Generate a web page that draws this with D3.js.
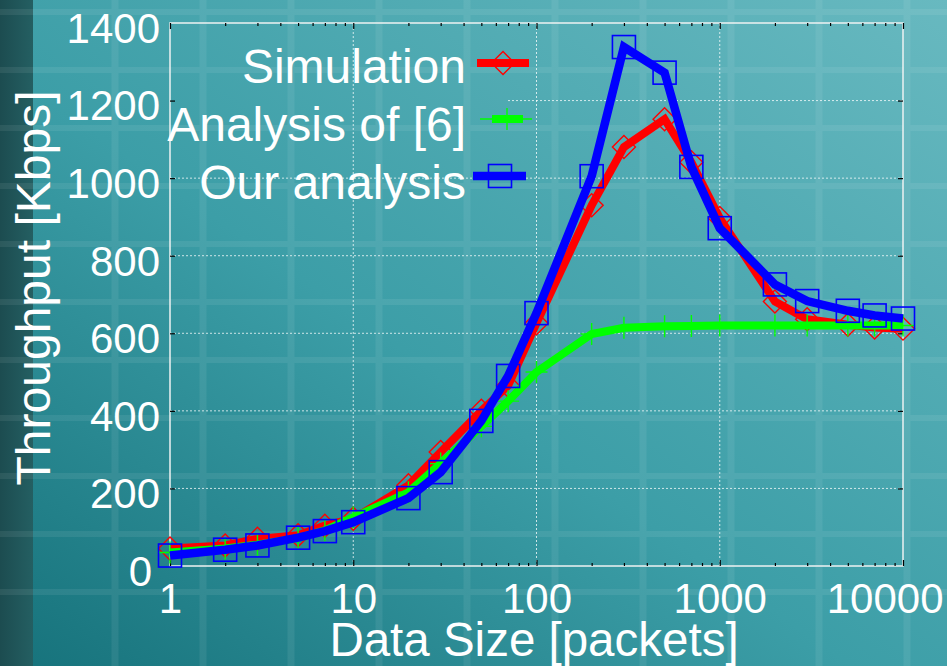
<!DOCTYPE html>
<html>
<head>
<meta charset="utf-8">
<script src="https://cdn.jsdelivr.net/npm/d3@7"></script>
<style>
  body { margin: 0; background: #2a8a93; }
  svg { display: block; font-family: "Liberation Sans", Arial, sans-serif; }
</style>
</head>
<body>
<svg id="chart" width="947" height="666"></svg>
<script>
// data
const sizes = [1, 2, 3, 5, 7, 10, 20, 30, 50, 70, 100, 200, 300, 500, 700, 1000, 2000, 3000, 5000, 7000, 10000];
const simulation = [45, 53, 70, 79, 104, 122, 208, 294, 400, 465, 626, 930, 1080, 1152, 1041, 897, 682, 636, 622, 615, 612];
const analysis6 = [35, 45, 55, 72, 92, 125, 190, 264, 360, 425, 500, 598, 614, 618, 619, 620, 620, 620, 620, 620, 620];
const ourAnalysis = [27, 42, 53, 73, 90, 113, 175, 242, 374, 490, 652, 1005, 1338, 1272, 1029, 871, 726, 683, 658, 646, 638];
const xTicks = [1, 10, 100, 1000, 10000];
const yTicks = [0, 200, 400, 600, 800, 1000, 1200, 1400];
const seriesNames = ["Simulation", "Analysis of [6]", "Our analysis"];

const W = 947, H = 666;
const margin = { top: 23, right: 44, bottom: 100, left: 170 };
const svg = d3.select("#chart");

// ---- slide background ----
const defs = svg.append("defs");
const bg = defs.append("linearGradient").attr("id", "bg")
  .attr("x1", "0").attr("y1", "1").attr("x2", "1").attr("y2", "0");
bg.append("stop").attr("offset", "0").attr("stop-color", "#16727b");
bg.append("stop").attr("offset", "0.45").attr("stop-color", "#3c9ea7");
bg.append("stop").attr("offset", "1").attr("stop-color", "#68b9c0");
const strip = defs.append("linearGradient").attr("id", "strip");
strip.append("stop").attr("offset", "0").attr("stop-color", "#1c4c50");
strip.append("stop").attr("offset", "1").attr("stop-color", "#245f62");

svg.append("rect").attr("width", W).attr("height", H).attr("fill", "url(#bg)");
svg.append("rect").attr("width", 33).attr("height", H).attr("fill", "url(#strip)");

const tex = svg.append("g").attr("opacity", 0.07).attr("stroke", "#fff");
tex.selectAll(".vb").data(d3.range(115, W, 88)).join("line")
  .attr("x1", d => d).attr("x2", d => d).attr("y1", 0).attr("y2", H).attr("stroke-width", 7);
tex.selectAll(".hb").data(d3.range(592, 0, -58)).join("line")
  .attr("y1", d => d).attr("y2", d => d).attr("x1", 0).attr("x2", W).attr("stroke-width", 6);

// ---- scales ----
const x = d3.scaleLog().domain([1, 10000]).range([margin.left, W - margin.right]);
const y = d3.scaleLinear().domain([0, 1400]).range([H - margin.bottom, margin.top]);
const x0 = x.range()[0], x1 = x.range()[1], y0 = y.range()[0], y1 = y.range()[1];

// grid (the 1200 line is hidden behind the key)
const grid = svg.append("g").attr("stroke", "#fff").attr("stroke-opacity", 0.75)
  .attr("stroke-width", 1).attr("stroke-dasharray", "2,2");
grid.selectAll(".gx").data(xTicks.slice(1, -1)).join("line")
  .attr("x1", d => x(d)).attr("x2", d => x(d)).attr("y1", y0).attr("y2", y1);
grid.selectAll(".gy").data(yTicks.slice(1, -1)).join("line")
  .attr("x1", d => d === 1200 ? 508 : x0).attr("x2", x1)
  .attr("y1", d => y(d)).attr("y2", d => y(d));

// border
svg.append("rect").attr("x", x0).attr("y", y1).attr("width", x1 - x0).attr("height", y0 - y1)
  .attr("fill", "none").attr("stroke", "#eef2f2").attr("stroke-width", 1.5);

// ---- axes ----
const minor = [];
for (let p = 1; p < 10000; p *= 10) for (let k = 2; k <= 9; k++) minor.push(p * k);

function styleAxis(g) {
  g.select(".domain").remove();
  g.selectAll(".tick line").attr("stroke", "#000").attr("stroke-width", 1.2);
  g.selectAll("text").attr("fill", "#fff").attr("font-size", 42)
    .attr("font-family", "'Liberation Sans', Arial, sans-serif");
}

const xAxis = svg.append("g").attr("transform", `translate(0,${y0})`)
  .call(d3.axisBottom(x).tickValues(xTicks).tickFormat(d3.format("d"))
    .tickSizeInner(-6).tickSizeOuter(0).tickPadding(17))
  .call(styleAxis);
xAxis.selectAll(".tick text").filter(d => d === 10000)
  .attr("text-anchor", "end").attr("x", 40);

svg.append("g").attr("transform", `translate(0,${y0})`)
  .call(d3.axisBottom(x).tickValues(minor).tickFormat("").tickSizeInner(-3).tickSizeOuter(0))
  .call(styleAxis);
svg.append("g").attr("transform", `translate(0,${y1})`)
  .call(d3.axisTop(x).tickValues(xTicks).tickFormat("").tickSizeInner(-6).tickSizeOuter(0))
  .call(styleAxis);
svg.append("g").attr("transform", `translate(0,${y1})`)
  .call(d3.axisTop(x).tickValues(minor).tickFormat("").tickSizeInner(-3).tickSizeOuter(0))
  .call(styleAxis);

const yAxis = svg.append("g").attr("transform", `translate(${x0},0)`)
  .call(d3.axisLeft(y).tickValues(yTicks).tickFormat(d3.format("d"))
    .tickSizeInner(-5).tickSizeOuter(0).tickPadding(10))
  .call(styleAxis);
yAxis.selectAll(".tick text").attr("dy", "0.46em");
yAxis.selectAll(".tick text").filter(d => d === 0).attr("x", -18);
yAxis.selectAll(".tick line").filter(d => d === 0 || d === 1400).remove();

const yAxisR = svg.append("g").attr("transform", `translate(${x1},0)`)
  .call(d3.axisRight(y).tickValues(yTicks).tickFormat("").tickSizeInner(-5).tickSizeOuter(0))
  .call(styleAxis);
yAxisR.selectAll(".tick line").filter(d => d === 0 || d === 1400).remove();

// axis titles
svg.append("text").attr("x", 534).attr("y", 656).attr("text-anchor", "middle")
  .attr("fill", "#fff").attr("font-size", 47.5).text("Data Size [packets]");
svg.append("text").attr("transform", "translate(50,288) rotate(-90)").attr("text-anchor", "middle")
  .attr("fill", "#fff").attr("font-size", 48).text("Throughput [Kbps]");

// ---- series ----
const line = d3.line().x(d => x(d[0])).y(d => y(d[1]));
const markers = {
  diamond: (g, cx, cy, c) => g.append("path")
    .attr("d", `M${cx},${cy - 11.5}L${cx + 11.5},${cy}L${cx},${cy + 11.5}L${cx - 11.5},${cy}Z`)
    .attr("fill", "none").attr("stroke", c).attr("stroke-width", 1.4),
  plus: (g, cx, cy, c) => g.append("path")
    .attr("d", `M${cx - 11},${cy}H${cx + 11}M${cx},${cy - 11}V${cy + 11}`)
    .attr("fill", "none").attr("stroke", c).attr("stroke-width", 1.4),
  square: (g, cx, cy, c) => g.append("rect")
    .attr("x", cx - 11.5).attr("y", cy - 11.5).attr("width", 23).attr("height", 23)
    .attr("fill", "none").attr("stroke", c).attr("stroke-width", 1.6)
};

const series = [
  { name: seriesNames[0], values: simulation, color: "#ff0000", marker: "diamond", width: 8 },
  { name: seriesNames[1], values: analysis6, color: "#00ff00", marker: "plus", width: 8 },
  { name: seriesNames[2], values: ourAnalysis, color: "#0000ff", marker: "square", width: 8.5 }
];

const plot = svg.append("g");
series.forEach(s => {
  const pts = sizes.map((d, i) => [d, s.values[i]]);
  plot.append("path").datum(pts).attr("d", line)
    .attr("fill", "none").attr("stroke", s.color).attr("stroke-width", s.width)
    .attr("stroke-linejoin", "miter").attr("stroke-linecap", "butt");
  const mg = plot.append("g");
  pts.forEach(p => markers[s.marker](mg, x(p[0]), y(p[1]), s.color));
});

// ---- key ----
const keyRows = [
  { base: 83, ly: 63, lx: [477, 529], mx: 503 },
  { base: 141, ly: 119, lx: [492, 523], mx: 507, thin: [480, 532] },
  { base: 199, ly: 176, lx: [473, 526], mx: 500 }
];
const key = svg.append("g");
series.forEach((s, i) => {
  const r = keyRows[i];
  key.append("text").attr("x", 466).attr("y", r.base).attr("text-anchor", "end")
    .attr("fill", "#fff").attr("font-size", 48).text(s.name);
  if (r.thin) key.append("line").attr("x1", r.thin[0]).attr("x2", r.thin[1])
    .attr("y1", r.ly).attr("y2", r.ly).attr("stroke", s.color).attr("stroke-width", 1.4);
  key.append("line").attr("x1", r.lx[0]).attr("x2", r.lx[1]).attr("y1", r.ly).attr("y2", r.ly)
    .attr("stroke", s.color).attr("stroke-width", s.width);
  markers[s.marker](key, r.mx, r.ly, s.color);
});
</script>
</body>
</html>
